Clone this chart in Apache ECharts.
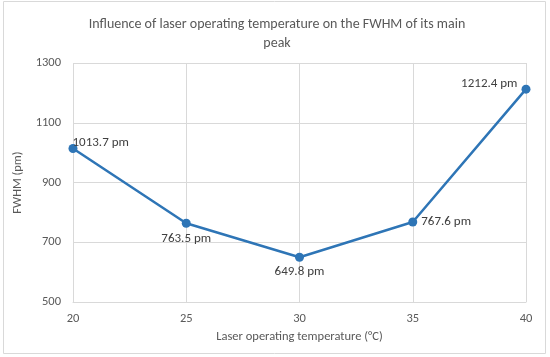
<!DOCTYPE html>
<html><head><meta charset="utf-8">
<script src="https://cdn.jsdelivr.net/npm/echarts@6/dist/echarts.min.js"></script>
<style>html,body{margin:0;padding:0;background:#fff}#c{width:550px;height:357px}</style>
</head><body><div id="c"></div>
<script>
const temps = [20, 25, 30, 35, 40];
const fwhm = [1013.7, 763.5, 649.8, 767.6, 1212.4];
const labelPos = ['insideBottomLeft', 'bottom', 'bottom', 'right', 'left'];
const chart = echarts.init(document.getElementById('c'));
const font = 'Calibri, Carlito, "Open Sans", sans-serif';
chart.setOption({
  animation: false,
  graphic: [{type:'rect', shape:{x:3.5,y:1.5,width:542,height:352}, style:{fill:'none', stroke:'#d9d9d9', lineWidth:1}}],
  title: {text: 'Influence of laser operating temperature on the FWHM of its main\npeak', left: 272, top: 10, textAlign: 'center',
    textStyle: {fontFamily: font, fontSize: 14, fontWeight: 'normal', color: '#595959', lineHeight: 19}},
  grid: {left: 73, right: 24, top: 63, bottom: 55},
  xAxis: {type: 'value', min: 20, max: 40, interval: 5, name: 'Laser operating temperature (°C)', nameLocation: 'middle', nameGap: 24,
    nameTextStyle: {fontFamily: font, fontSize: 12.5, color: '#595959'},
    axisLine: {lineStyle: {color: '#d9d9d9'}}, axisTick: {show: false},
    axisLabel: {fontFamily: font, fontSize: 12.5, color: '#595959', margin: 10},
    splitLine: {show: true, lineStyle: {color: '#d9d9d9'}}},
  yAxis: {type: 'value', min: 500, max: 1300, interval: 200, name: 'FWHM (pm)', nameLocation: 'middle', nameGap: 44,
    nameTextStyle: {fontFamily: font, fontSize: 12.5, color: '#595959'},
    axisLine: {show: false}, axisTick: {show: false},
    axisLabel: {fontFamily: font, fontSize: 12.5, color: '#595959', margin: 12, formatter: v => String(v)},
    splitLine: {lineStyle: {color: '#d9d9d9'}}},
  series: [{type: 'line', data: temps.map((t, i) => ({value: [t, fwhm[i]], label: {position: labelPos[i], offset: i === 4 ? [0, -5] : [0, 0]}})),
    symbol: 'circle', symbolSize: 9, lineStyle: {color: '#2E75B6', width: 2.5}, itemStyle: {color: '#2E75B6'},
    label: {show: true, formatter: p => p.value[1].toFixed(1) + ' pm', fontFamily: font, fontSize: 13, color: '#404040', distance: 4}}]
});
</script></body></html>
